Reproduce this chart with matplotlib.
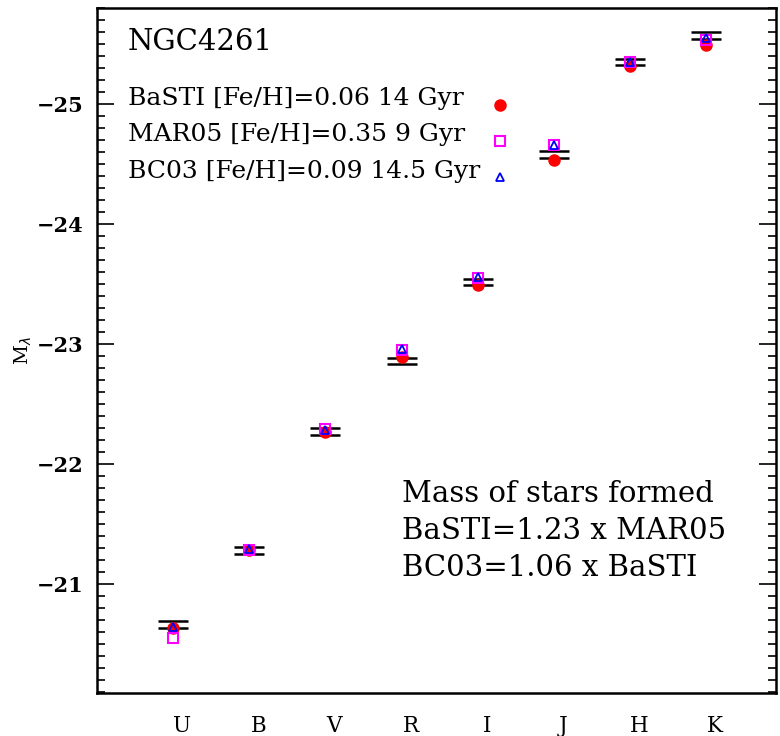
import matplotlib
matplotlib.use("Agg")
import matplotlib.pyplot as plt
import matplotlib.transforms as mtransforms
import numpy as np

plt.rcParams['font.family'] = ['DejaVu Serif']

# -----------------------------
# Data
# -----------------------------
bands = ["U", "B", "V", "R", "I", "J", "H", "K"]
band_pos = [1, 2, 3, 4, 5, 6, 7, 8]

obs_mag = [-20.66, -21.28, -22.27, -22.86, -23.52, -24.58, -25.35, -25.57]
obs_err = [0.028, 0.028, 0.028, 0.025, 0.025, 0.028, 0.028, 0.028]

basti = [-20.63, -21.28, -22.27, -22.89, -23.49, -24.53, -25.32, -25.49]
mar05 = [-20.55, -21.28, -22.29, -22.95, -23.55, -24.66, -25.35, -25.53]
bc03 = [-20.64, -21.29, -22.28, -22.96, -23.56, -24.66, -25.35, -25.55]

legend_labels = ["BaSTI [Fe/H]=0.06 14 Gyr",
                 "MAR05 [Fe/H]=0.35 9 Gyr",
                 "BC03 [Fe/H]=0.09 14.5 Gyr"]

mass_text = ["Mass of stars formed",
             "BaSTI=1.23 x MAR05",
             "BC03=1.06 x BaSTI"]

fig = plt.figure(figsize=(7.8, 7.36), dpi=100)
ax = fig.add_axes([0.1244, 0.0584, 0.8705, 0.9306])

# observed values: two black caps
ax.errorbar(band_pos, obs_mag, yerr=obs_err, fmt='none', ecolor='black',
            elinewidth=0, capsize=11, capthick=1.8, zorder=2)

ax.plot(band_pos, basti, 'o', color='red', markersize=8, zorder=3)
ax.plot(band_pos, mar05, 's', mfc='none', mec='magenta', mew=1.5,
        markersize=7.5, zorder=4)
ax.plot(band_pos, bc03, '^', mfc='none', mec='blue', mew=1.3,
        markersize=6, zorder=5)

ax.set_xlim(0, 8.92)
ax.set_ylim(-20.09, -25.8)

ax.set_yticks([-25, -24, -23, -22, -21])
ax.set_yticklabels(["\u221225", "\u221224", "\u221223", "\u221222", "\u221221"],
                   fontsize=15, fontweight='bold')
ax.set_yticks(np.arange(-25.8, -20.05, 0.1), minor=True)
ax.tick_params(axis='y', which='major', direction='in', length=12, width=1.2,
               left=True, right=True, pad=10)
ax.tick_params(axis='y', which='minor', direction='in', length=6, width=1.2,
               left=True, right=True)

ax.set_xticks(band_pos)
ax.set_xticklabels(bands, fontsize=15.5)
ax.tick_params(axis='x', which='both', length=0, pad=16)
offset = mtransforms.ScaledTranslation(9 / 100, 0, fig.dpi_scale_trans)
for lab in ax.get_xticklabels():
    lab.set_transform(lab.get_transform() + offset)

for sp in ax.spines.values():
    sp.set_linewidth(1.8)

ax.set_ylabel(r"M$_\lambda$", fontsize=14, labelpad=2)

# legend text and markers
ax.text(0.045, 0.950, "NGC4261", transform=ax.transAxes, fontsize=21,
        va='center', ha='left')
leg_y = [0.868, 0.815, 0.761]
for lab, yy in zip(legend_labels, leg_y):
    ax.text(0.045, yy, lab, transform=ax.transAxes, fontsize=18,
            va='center', ha='left')
ax.plot([0.594], [0.859], 'o', color='red', markersize=8, transform=ax.transAxes)
ax.plot([0.594], [0.806], 's', mfc='none', mec='magenta', mew=1.5,
        markersize=7.5, transform=ax.transAxes)
ax.plot([0.594], [0.754], '^', mfc='none', mec='blue', mew=1.3,
        markersize=6, transform=ax.transAxes)

mass_y = [0.291, 0.237, 0.183]
for lab, yy in zip(mass_text, mass_y):
    ax.text(0.449, yy, lab, transform=ax.transAxes, fontsize=21,
            va='center', ha='left')

fig.savefig("out.png", dpi=100)
